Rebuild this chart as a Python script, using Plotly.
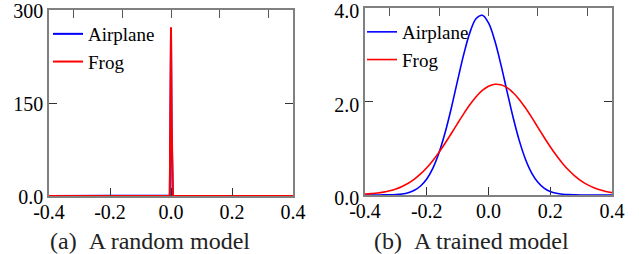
import plotly.graph_objects as go

# ---------------- data ----------------
# (a) random model: very narrow spikes near 0
x_random = [-0.4, -0.006, -0.004, -0.002, 0.0, 0.002, 0.004, 0.006, 0.4]
airplane_random = [0, 0, 1, 110, 262, 110, 1, 0, 0]
frog_random = [0, 0, 2, 125, 272, 125, 2, 0, 0]

# (b) trained model
x_trained = [-0.40, -0.38, -0.36, -0.34, -0.32, -0.30, -0.28, -0.26, -0.24, -0.22,
             -0.20, -0.18, -0.16, -0.14, -0.12, -0.10, -0.08, -0.06, -0.04, -0.02,
             0.00, 0.02, 0.04, 0.06, 0.08, 0.10, 0.12, 0.14, 0.16, 0.18,
             0.20, 0.22, 0.24, 0.26, 0.28, 0.30, 0.32, 0.34, 0.36, 0.38, 0.40]
airplane_trained = [0.000, 0.000, 0.001, 0.002, 0.004, 0.010, 0.023, 0.050, 0.101, 0.192,
                    0.343, 0.576, 0.908, 1.346, 1.873, 2.452, 3.013, 3.479, 3.774, 3.845,
                    3.680, 3.310, 2.795, 2.218, 1.653, 1.158, 0.761, 0.470, 0.273, 0.149,
                    0.076, 0.037, 0.017, 0.007, 0.003, 0.001, 0.000, 0.000, 0.000, 0.000, 0.000]
frog_trained = [0.020, 0.030, 0.042, 0.061, 0.089, 0.128, 0.182, 0.251, 0.340, 0.451,
                0.584, 0.740, 0.917, 1.113, 1.320, 1.533, 1.741, 1.935, 2.103, 2.236,
                2.326, 2.368, 2.357, 2.296, 2.188, 2.040, 1.860, 1.659, 1.446, 1.235,
                1.032, 0.845, 0.676, 0.529, 0.404, 0.302, 0.221, 0.159, 0.111, 0.076, 0.051]

x_ticks = [-0.4, -0.2, 0.0, 0.2, 0.4]
x_ticktext = ["-0.4", "-0.2", "0.0", "0.2", "0.4"]
top_ticks = [-0.32, -0.16, 0.0, 0.16, 0.32]
y_ticks_a = [0, 150, 300]
y_ticktext_a = ["0.0", "150", "300"]
y_ticks_b = [0, 2, 4]
y_ticktext_b = ["0.0", "2.0", "4.0"]
captions = ["(a)\u00a0\u00a0A random model", "(b)\u00a0\u00a0A trained model"]

BLUE = "#0000ff"
RED = "#ff0000"
FONT = "Times New Roman, Liberation Serif, Times, serif"
W, H = 639, 254

fig = go.Figure()

# left panel
fig.add_trace(go.Scatter(x=x_random, y=airplane_random, mode="lines", name="Airplane",
                         line=dict(color=BLUE, width=2), xaxis="x", yaxis="y", legend="legend"))
fig.add_trace(go.Scatter(x=x_random, y=frog_random, mode="lines", name="Frog",
                         line=dict(color=RED, width=2), xaxis="x", yaxis="y", legend="legend"))
# right panel
fig.add_trace(go.Scatter(x=x_trained, y=airplane_trained, mode="lines", name="Airplane",
                         line=dict(color=BLUE, width=1.6, shape="spline"), xaxis="x2", yaxis="y2",
                         legend="legend2"))
fig.add_trace(go.Scatter(x=x_trained, y=frog_trained, mode="lines", name="Frog",
                         line=dict(color=RED, width=1.6, shape="spline"), xaxis="x2", yaxis="y2",
                         legend="legend2"))
# dummy traces for top tick axes
fig.add_trace(go.Scatter(x=[None], y=[None], xaxis="x3", yaxis="y", showlegend=False, hoverinfo="skip"))
fig.add_trace(go.Scatter(x=[None], y=[None], xaxis="x4", yaxis="y2", showlegend=False, hoverinfo="skip"))

dom_a = [49 / W, 293 / W]
dom_b = [365 / W, 612 / W]
ydom_a = [(H - 196) / H, (H - 10) / H]
ydom_b = [(H - 195) / H, (H - 8) / H]

tickfont = dict(family=FONT, size=20, color="black")
frame = dict(showline=True, linecolor="#808080", linewidth=1.5, mirror=True,
             showgrid=False, zeroline=False, ticks="inside", ticklen=8,
             tickcolor="#333333", tickwidth=1, tickfont=tickfont,
             ticklabeloverflow="allow", automargin=False)
xframe = dict(frame, ticklabelstandoff=-3)
yframe_a = dict(frame, mirror="ticks", ticklabelshift=1)
yframe_b = dict(frame, mirror="ticks", ticklabelshift=3)
top = dict(side="top", range=[-0.4, 0.4], tickvals=top_ticks, showticklabels=False,
           ticks="inside", ticklen=8, tickcolor="#555555", showgrid=False,
           zeroline=False, showline=False, automargin=False)

fig.update_layout(
    width=W, height=H, autosize=False,
    margin=dict(l=0, r=0, t=0, b=0, pad=0, autoexpand=False),
    paper_bgcolor="white", plot_bgcolor="white",
    font=dict(family=FONT, color="black"),
    xaxis=dict(domain=dom_a, anchor="y", range=[-0.4, 0.4], tickvals=x_ticks,
               ticktext=x_ticktext, **xframe),
    yaxis=dict(domain=ydom_a, anchor="x", range=[0, 300], tickvals=y_ticks_a,
               ticktext=y_ticktext_a, **yframe_a),
    xaxis2=dict(domain=dom_b, anchor="y2", range=[-0.4, 0.4], tickvals=x_ticks,
                ticktext=x_ticktext, **xframe),
    yaxis2=dict(domain=ydom_b, anchor="x2", range=[0, 4], tickvals=y_ticks_b,
                ticktext=y_ticktext_b, **yframe_b),
    xaxis3=dict(overlaying="x", anchor="y", **top),
    xaxis4=dict(overlaying="x2", anchor="y2", **top),
    legend=dict(x=48 / W, y=(H - 15) / H, xanchor="left", yanchor="top",
                bgcolor="rgba(0,0,0,0)", font=dict(family=FONT, size=19, color="black"),
                itemwidth=30, tracegroupgap=0),
    legend2=dict(x=362 / W, y=(H - 13) / H, xanchor="left", yanchor="top",
                 bgcolor="rgba(0,0,0,0)", font=dict(family=FONT, size=19, color="black"),
                 itemwidth=30, tracegroupgap=0),
    showlegend=True,
)

for cx, txt in zip([150 / W, 471 / W], captions):
    fig.add_annotation(x=cx, y=(H - 241) / H, xref="paper", yref="paper", text=txt,
                       showarrow=False, xanchor="center", yanchor="middle",
                       font=dict(family=FONT, size=24, color="#222222"))

fig.write_html("out.html", config={"displayModeBar": False},
               post_script="document.body.style.margin='0px';")
